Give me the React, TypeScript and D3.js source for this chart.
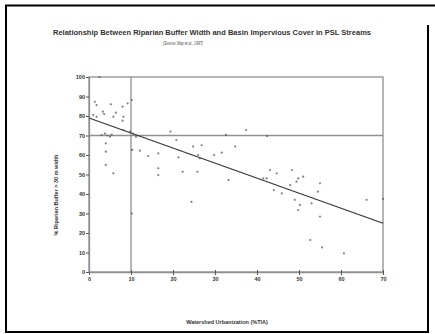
import React, { useEffect, useRef } from 'react';
import * as d3 from 'd3';

// watershed urbanization (%TIA) vs % riparian buffer intact
const points: [number, number][] = [
  [2.5, 100],
  [1.4, 87.3], [1.8, 85.6], [5.2, 86], [3.3, 82.2], [3.6, 81], [1.8, 79.6], [1, 80.5],
  [5.8, 79.6], [6.4, 81.7], [8, 84.8], [9.2, 86.5], [10.2, 88.2], [8.2, 79.6], [8, 77.6],
  [3.8, 71], [4.4, 70], [5, 69.4], [3, 70.2], [5.4, 70.5], [8.2, 72.8], [9.8, 72], [10.5, 71], [11.2, 69.4],
  [4, 66], [4, 61.7], [4, 54.9], [5.8, 50.6],
  [10.3, 62.6], [12.1, 62.2], [14.1, 59.5], [16.5, 60.8], [16.5, 53.2], [16.5, 49.7], [10.2, 30],
  [19.4, 72], [20.8, 67.7], [21.3, 58.8], [22.3, 51.4], [24.8, 64.3], [26.8, 65], [26, 60], [26.4, 58.3],
  [25.8, 51.4], [24.4, 36], [29.8, 60], [31.6, 61.2], [32.6, 70.3], [34.8, 64.3], [33.2, 47.2],
  [37.4, 72.8], [42.4, 69.7],
  [41.5, 48], [42.3, 48], [43.1, 52.3], [44.7, 50.6], [44, 42], [45.9, 40.3], [47.9, 44.6],
  [48.3, 52.3], [49.8, 48], [51, 48.9], [49.4, 46.3], [49, 37], [50.2, 34.4], [49.8, 31.8],
  [53, 35.2], [55, 45.5], [54.5, 41.2], [55, 28.4], [52.7, 16.4], [55.5, 12.6], [60.7, 9.6],
  [66.1, 37], [70, 37.5],
];

// regression line end values at x = 0 and x = 70
const fit: [number, number][] = [[0, 79], [70, 25]];
const xTicks = [0, 10, 20, 30, 40, 50, 60, 70];
const yTicks = [0, 10, 20, 30, 40, 50, 60, 70, 80, 90, 100];
const refX = 10;
const refY = 70;

const App: React.FC = () => {
  const ref = useRef<SVGSVGElement | null>(null);

  useEffect(() => {
    if (!ref.current) return;
    const width = 435;
    const height = 334;
    const svg = d3.select(ref.current);
    svg.selectAll('*').remove();
    svg.attr('width', width).attr('height', height);

    // page frame
    svg.append('line').attr('x1', 5).attr('x2', 435).attr('y1', 5.5).attr('y2', 5.5)
      .attr('stroke', '#000').attr('stroke-width', 2);
    svg.append('line').attr('x1', 6).attr('x2', 6).attr('y1', 5).attr('y2', 332)
      .attr('stroke', '#000').attr('stroke-width', 2);
    svg.append('line').attr('x1', 5).attr('x2', 429).attr('y1', 332).attr('y2', 332)
      .attr('stroke', '#000').attr('stroke-width', 2);
    svg.append('line').attr('x1', 428).attr('x2', 428).attr('y1', 25).attr('y2', 333)
      .attr('stroke', '#000').attr('stroke-width', 2);

    const x = d3.scaleLinear().domain([0, 70]).range([89, 383]);
    const y = d3.scaleLinear().domain([0, 100]).range([272, 77]);
    const axisColor = '#8f8f8f';
    const font = 'Liberation Sans, Arial, sans-serif';

    // plot box
    svg.append('rect')
      .attr('x', x(0)).attr('y', y(100))
      .attr('width', x(70) - x(0)).attr('height', y(0) - y(100))
      .attr('fill', 'none').attr('stroke', axisColor).attr('stroke-width', 1.3);

    // reference lines
    svg.append('line').attr('x1', x(refX)).attr('x2', x(refX)).attr('y1', y(0)).attr('y2', y(100))
      .attr('stroke', axisColor).attr('stroke-width', 1.3);
    svg.append('line').attr('x1', x(0)).attr('x2', x(70)).attr('y1', y(refY)).attr('y2', y(refY))
      .attr('stroke', axisColor).attr('stroke-width', 1.3);

    // axes
    const xAxis = svg.append('g').attr('transform', `translate(0,${y(0)})`)
      .call(d3.axisBottom(x).tickValues(xTicks).tickSize(3).tickSizeOuter(0).tickFormat(d3.format('d')));
    xAxis.select('.domain').attr('stroke', axisColor).attr('stroke-width', 1.3);
    xAxis.selectAll('.tick line').attr('stroke', '#555').attr('y1', -2);
    xAxis.selectAll('.tick text').attr('dy', 0).attr('y', 9)
      .style('font-family', font).style('font-size', '5.5px')
      .style('font-weight', 'bold').attr('fill', '#333');

    const yAxis = svg.append('g').attr('transform', `translate(${x(0)},0)`)
      .call(d3.axisLeft(y).tickValues(yTicks).tickSize(3).tickSizeOuter(0).tickFormat(d3.format('d')));
    yAxis.select('.domain').attr('stroke', axisColor).attr('stroke-width', 1.3);
    yAxis.selectAll('.tick line').attr('stroke', '#555');
    yAxis.selectAll('.tick text').attr('x', -4)
      .style('font-family', font).style('font-size', '5.5px')
      .style('font-weight', 'bold').attr('fill', '#333');

    // regression line
    const line = d3.line<[number, number]>().x(d => x(d[0])).y(d => y(d[1]));
    svg.append('path').datum(fit).attr('d', line)
      .attr('fill', 'none').attr('stroke', '#333').attr('stroke-width', 1.2);

    // points
    svg.append('g').selectAll('circle')
      .data(points).enter().append('circle')
      .attr('cx', d => x(d[0])).attr('cy', d => y(d[1]))
      .attr('r', 1.1).attr('fill', '#555').attr('opacity', 0.75);

    // titles
    svg.append('text').attr('x', 212).attr('y', 35).attr('text-anchor', 'middle')
      .attr('textLength', 318).attr('lengthAdjust', 'spacingAndGlyphs')
      .style('font-family', font).style('font-size', '7px')
      .style('font-weight', 'bold').attr('fill', '#333')
      .text('Relationship Between Riparian Buffer Width and Basin Impervious Cover in PSL Streams');
    svg.append('text').attr('x', 183).attr('y', 45).attr('text-anchor', 'middle')
      .attr('textLength', 40).attr('lengthAdjust', 'spacingAndGlyphs')
      .style('font-family', font).style('font-size', '5.5px')
      .style('font-style', 'italic').attr('fill', '#444')
      .text('(Source: May et al., 1997)');

    svg.append('text').attr('x', 227).attr('y', 324).attr('text-anchor', 'middle')
      .style('font-family', font).style('font-size', '5.5px')
      .style('font-weight', 'bold').attr('fill', '#333')
      .text('Watershed Urbanization (%TIA)');

    svg.append('text').attr('transform', 'translate(58,195) rotate(-90)').attr('text-anchor', 'middle')
      .style('font-family', font).style('font-size', '5.5px')
      .style('font-weight', 'bold').attr('fill', '#333')
      .text('% Riparian Buffer > 30 m width');
  }, []);

  return <svg ref={ref} style={{ position: 'absolute', left: 0, top: 0 }} />;
};

export default App;
